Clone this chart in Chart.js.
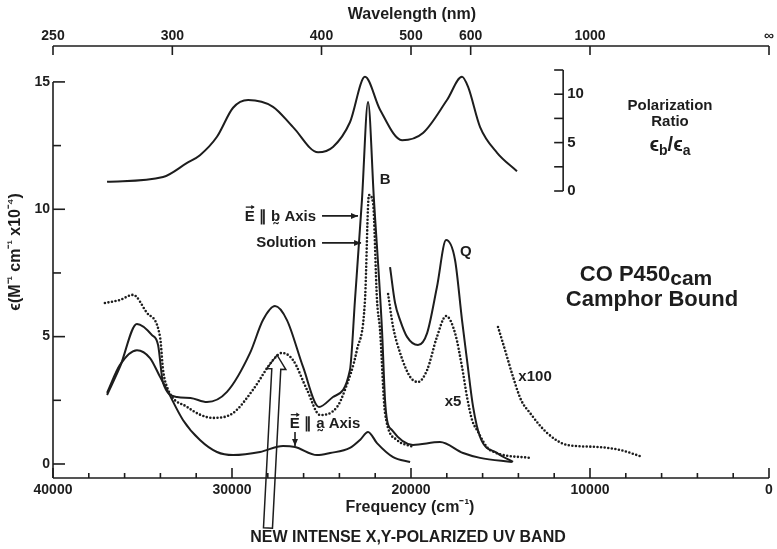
<!DOCTYPE html>
<html>
<head>
<meta charset="utf-8">
<script src="https://cdn.jsdelivr.net/npm/chart.js@4.4.1/dist/chart.umd.min.js"></script>
<style>
  body { margin: 0; background: #fff; }
</style>
</head>
<body>
<canvas id="spectrum" width="777" height="549"></canvas>
<script>
// frequencies in cm-1, absorbance in M-1 cm-1 x10-4
var ratioFreq = [36980, 33850, 32510, 31790, 30840, 29940, 29100, 27710, 26590, 25190, 24360, 23410, 22570, 21730, 20500, 19330, 17990, 17150, 16810, 16140, 15190, 14080];
var ratioVals = [0.95, 1.45, 2.9, 3.7, 5.6, 8.6, 9.4, 8.7, 6.6, 4.0, 4.55, 7.1, 11.8, 8.4, 5.25, 6.0, 9.4, 11.8, 10.75, 6.6, 3.95, 2.05];

var bAxisFreq = [36980, 36260, 35310, 34470, 34130, 33850, 33070, 32320, 31400, 30280, 28990, 28270, 27600, 26930, 26030, 25140, 24360, 23410, 23130, 22740, 22400, 22070, 21620, 21450, 21340, 21060, 19890, 18380, 17090, 16140, 14360];
var bAxisEps  = [2.71, 3.81, 5.5, 5.06, 4.67, 3.18, 2.63, 2.59, 2.43, 2.83, 4.36, 5.65, 6.2, 5.65, 3.81, 2.24, 2.63, 3.69, 6.44, 10.37, 14.21, 10.37, 5.26, 2.51, 1.73, 1.33, 0.75, 0.86, 0.43, 0.24, 0.08];

var solnFreq = [37100, 36260, 35530, 34750, 34020, 33850, 33630, 32510, 31060, 29940, 28830, 27710, 27210, 26590, 25810, 25080, 24130, 23690, 23020, 22570, 22350, 22120, 21900, 21730, 21450, 20780, 19890];
var solnEps  = [6.32, 6.44, 6.64, 5.93, 4.99, 3.69, 3.02, 2.24, 1.81, 2.0, 2.91, 4.08, 4.36, 4.08, 2.91, 1.92, 2.24, 2.91, 4.48, 6.44, 10.56, 10.25, 6.44, 5.26, 2.0, 0.94, 0.67];

var aAxisFreq = [36980, 36260, 35310, 34580, 34020, 33630, 32740, 31790, 30840, 29940, 28430, 27150, 26480, 25250, 24520, 23410, 22850, 22400, 21900, 21000, 20050];
var aAxisEps  = [2.79, 3.89, 4.47, 4.16, 3.42, 2.91, 1.73, 0.94, 0.47, 0.35, 0.47, 0.71, 0.67, 0.35, 0.43, 0.63, 0.94, 1.26, 0.82, 0.27, 0.08];

var b5Freq = [21170, 20890, 20610, 20220, 19610, 19100, 18550, 18040, 17540, 17150, 16870, 16530, 16140, 15190, 14300];
var b5Eps  = [7.73, 6.32, 5.65, 4.99, 4.67, 5.14, 6.95, 8.79, 8.01, 5.65, 4.08, 2.24, 1.06, 0.43, 0.08];

var soln5Freq = [21280, 21000, 20610, 20050, 19610, 19100, 18550, 18040, 17540, 17150, 16870, 16590, 16310, 15590, 13350];
var soln5Eps  = [6.67, 5.38, 4.36, 3.42, 3.22, 3.69, 4.99, 5.81, 5.14, 3.81, 2.63, 1.73, 1.33, 0.55, 0.24];

var soln100Freq = [15140, 14750, 14300, 13850, 13350, 12400, 11280, 9610, 8320, 7200];
var soln100Eps  = [5.38, 4.48, 3.42, 2.51, 2.0, 1.22, 0.75, 0.67, 0.55, 0.31];

var wavelengthTicks = [250, 300, 400, 500, 600, 1000, Infinity];
var wavelengthLabels = ['250', '300', '400', '500', '600', '1000', '\u221E'];
var ratioTicks = [0, 2.5, 5, 7.5, 10, 12.5];

var ink = '#1d1d1d';
var FONT = '"Liberation Sans", Arial, Helvetica, sans-serif';

function pts(fs, vs) {
    return fs.map(function (f, i) { return { x: f, y: vs[i] }; });
}

function solid(data, axis) {
    return { data: data, yAxisID: axis || 'y', borderColor: ink, borderWidth: 2, pointRadius: 0,
             tension: 0.4, cubicInterpolationMode: 'monotone', fill: false };
}

function dotted(data) {
    return { data: data, yAxisID: 'y', borderColor: ink, borderWidth: 2.6, borderDash: [0, 3.6],
             borderCapStyle: 'round', pointRadius: 0, tension: 0.4, cubicInterpolationMode: 'monotone', fill: false };
}

// parts: [text, size, dy, vectorArrow]
function say(ctx, parts, x, y, align) {
    var w = 0;
    parts.forEach(function (p) { ctx.font = 'bold ' + p[1] + 'px ' + FONT; w += ctx.measureText(p[0]).width; });
    var cx = align === 'center' ? x - w / 2 : (align === 'right' ? x - w : x);
    ctx.textAlign = 'left';
    ctx.textBaseline = 'middle';
    parts.forEach(function (p) {
        ctx.font = 'bold ' + p[1] + 'px ' + FONT;
        var pw = ctx.measureText(p[0]).width;
        ctx.fillText(p[0], cx, y + (p[2] || 0));
        if (p[3]) {
            var ay = y + (p[2] || 0) - p[1] * 0.62;
            ctx.save();
            ctx.lineWidth = 1.3;
            seg(ctx, cx + 1, ay, cx + pw - 1, ay);
            ctx.beginPath();
            ctx.moveTo(cx + pw, ay);
            ctx.lineTo(cx + pw - 3.5, ay - 2.2);
            ctx.lineTo(cx + pw - 3.5, ay + 2.2);
            ctx.closePath();
            ctx.fill();
            ctx.restore();
        }
        cx += pw;
    });
}

function seg(ctx, x1, y1, x2, y2) {
    ctx.beginPath(); ctx.moveTo(x1, y1); ctx.lineTo(x2, y2); ctx.stroke();
}

function arrow(ctx, x1, y1, x2, y2) {
    seg(ctx, x1, y1, x2, y2);
    var a = Math.atan2(y2 - y1, x2 - x1);
    ctx.beginPath();
    ctx.moveTo(x2, y2);
    ctx.lineTo(x2 - 7 * Math.cos(a) + 3 * Math.sin(a), y2 - 7 * Math.sin(a) - 3 * Math.cos(a));
    ctx.lineTo(x2 - 7 * Math.cos(a) - 3 * Math.sin(a), y2 - 7 * Math.sin(a) + 3 * Math.cos(a));
    ctx.closePath();
    ctx.fill();
}

var frame = {
    id: 'frame',
    afterDraw: function (chart) {
        var ctx = chart.ctx, a = chart.chartArea;
        var x = chart.scales.x, y = chart.scales.y, yR = chart.scales.yR;
        var X = function (f) { return x.getPixelForValue(f); };
        var Y = function (e) { return y.getPixelForValue(e); };
        ctx.save();
        ctx.strokeStyle = ink;
        ctx.fillStyle = ink;
        ctx.lineWidth = 1.6;

        // bottom frequency axis, ticks inward
        seg(ctx, a.left, a.bottom, a.right, a.bottom);
        x.ticks.forEach(function (t) {
            var len = t.value % 10000 === 0 ? 10 : 5;
            seg(ctx, X(t.value), a.bottom, X(t.value), a.bottom - len);
        });
        // top wavelength axis
        seg(ctx, a.left, a.top, a.right, a.top);
        wavelengthTicks.forEach(function (w) {
            seg(ctx, X(1e7 / w), a.top, X(1e7 / w), a.top + 9);
        });
        // left absorbance axis
        seg(ctx, a.left, Y(15), a.left, a.bottom);
        y.ticks.forEach(function (t) {
            if (t.value < 0 || t.value > 15) return;
            var len = t.value % 5 === 0 ? 12 : 8;
            seg(ctx, a.left, Y(t.value), a.left + len, Y(t.value));
        });
        // inner polarization ratio axis
        var rx = X(11500);
        seg(ctx, rx, yR.getPixelForValue(0), rx, yR.getPixelForValue(12.5));
        ratioTicks.forEach(function (r) {
            var py = yR.getPixelForValue(r);
            seg(ctx, rx, py, rx - 9, py);
            if (r % 5 === 0) say(ctx, [[String(r), 15]], rx + 4, py, 'left');
        });

        // titles
        say(ctx, [['Wavelength (nm)', 16]], 412, 15, 'center');
        say(ctx, [['Frequency (cm', 16], ['\u207B\u00B9', 14, -3], [')', 16]], 410, 508, 'center');
        ctx.save();
        ctx.translate(16, 252);
        ctx.rotate(-Math.PI / 2);
        say(ctx, [['\u03F5(M', 16], ['\u207B\u00B9', 13, -4], [' cm', 16], ['\u207B\u00B9', 13, -4], [' x10', 16], ['\u207B\u2074', 13, -4], [')', 16]], 0, 0, 'center');
        ctx.restore();

        // annotations
        say(ctx, [['B', 15]], X(21450), Y(11.15), 'center');
        say(ctx, [['E', 15, 0, true], [' \u2225 b\u0330 Axis', 15]], X(25300), Y(9.72), 'right');
        arrow(ctx, X(24970), Y(9.74), X(22960), Y(9.74));
        say(ctx, [['Solution', 15]], X(25300), Y(8.68), 'right');
        arrow(ctx, X(24970), Y(8.68), X(22790), Y(8.68));
        say(ctx, [['Q', 15]], X(16930), Y(8.32), 'center');
        say(ctx, [['x5', 15]], X(17650), Y(2.43), 'center');
        say(ctx, [['x100', 15]], X(13070), Y(3.42), 'center');
        say(ctx, [['E', 15, 0, true], [' \u2225 a\u0330 Axis', 15]], X(24800), Y(1.57), 'center');
        arrow(ctx, X(26480), Y(1.26), X(26480), Y(0.71));
        say(ctx, [['CO P450', 22], ['cam', 21, 4]], X(6870), Y(7.42), 'center');
        say(ctx, [['Camphor Bound', 22]], X(6540), Y(6.44), 'center');
        say(ctx, [['Polarization', 15]], X(5530), Y(14.06), 'center');
        say(ctx, [['Ratio', 15]], X(5530), Y(13.43), 'center');
        say(ctx, [['\u03F5', 20], ['b', 14, 5], ['/\u03F5', 20], ['a', 14, 5]], X(5530), Y(12.49), 'center');
        say(ctx, [['NEW INTENSE X,Y-POLARIZED UV BAND', 16]], X(20170), Y(-2.9), 'center');

        // hollow arrow pointing at the new UV band
        var tx = X(27990), ty = Y(-2.51), hx = X(27485), hy = Y(4.28);
        var L = Math.hypot(hx - tx, hy - ty), ux = (hx - tx) / L, uy = (hy - ty) / L, nx = -uy, ny = ux;
        var nkx = hx - 14 * ux, nky = hy - 14 * uy;
        ctx.lineWidth = 1.5;
        ctx.beginPath();
        ctx.moveTo(tx + 4.5 * nx, ty + 4.5 * ny);
        ctx.lineTo(nkx + 4.5 * nx, nky + 4.5 * ny);
        ctx.lineTo(nkx + 9.5 * nx, nky + 9.5 * ny);
        ctx.lineTo(hx, hy);
        ctx.lineTo(nkx - 9.5 * nx, nky - 9.5 * ny);
        ctx.lineTo(nkx - 4.5 * nx, nky - 4.5 * ny);
        ctx.lineTo(tx - 4.5 * nx, ty - 4.5 * ny);
        ctx.closePath();
        ctx.stroke();
        ctx.restore();
    }
};

var tickFont = { family: FONT, size: 14, weight: 'bold' };

new Chart('spectrum', {
    type: 'line',
    data: {
        datasets: [
            solid(pts(ratioFreq, ratioVals), 'yR'),
            solid(pts(bAxisFreq, bAxisEps)),
            dotted(pts(solnFreq, solnEps)),
            solid(pts(aAxisFreq, aAxisEps)),
            solid(pts(b5Freq, b5Eps)),
            dotted(pts(soln5Freq, soln5Eps)),
            dotted(pts(soln100Freq, soln100Eps))
        ]
    },
    options: {
        responsive: false,
        animation: false,
        layout: { padding: { right: 8 } },
        plugins: { legend: { display: false }, tooltip: { enabled: false } },
        scales: {
            x: {
                type: 'linear', position: 'bottom', min: 0, max: 40000, reverse: true,
                afterFit: function (s) { s.height = 71; },
                grid: { display: false, drawTicks: false }, border: { display: false },
                ticks: {
                    stepSize: 2000, autoSkip: false, maxRotation: 0, includeBounds: false, padding: 4,
                    color: ink, font: tickFont,
                    callback: function (v) { return v % 10000 === 0 ? String(v) : ''; }
                }
            },
            x2: {
                type: 'linear', position: 'top', min: 0, max: 40000, reverse: true,
                afterFit: function (s) { s.height = 46; },
                afterBuildTicks: function (s) { s.ticks = wavelengthTicks.map(function (w) { return { value: 1e7 / w }; }); },
                grid: { display: false, drawTicks: false }, border: { display: false },
                ticks: {
                    autoSkip: false, maxRotation: 0, padding: 1, color: ink, font: tickFont,
                    callback: function (v, i) { return wavelengthLabels[i]; }
                }
            },
            y: {
                type: 'linear', position: 'left', min: -0.55, max: 16.41,
                afterFit: function (s) { s.width = 53; },
                grid: { display: false, drawTicks: false }, border: { display: false },
                ticks: {
                    stepSize: 2.5, includeBounds: false, padding: 3, color: ink, font: tickFont,
                    callback: function (v) { return v % 5 === 0 && v <= 15 ? String(v) : ''; }
                }
            },
            yR: { type: 'linear', position: 'right', display: false, min: -29.65, max: 14.98 }
        }
    },
    plugins: [frame]
});
</script>
</body>
</html>
